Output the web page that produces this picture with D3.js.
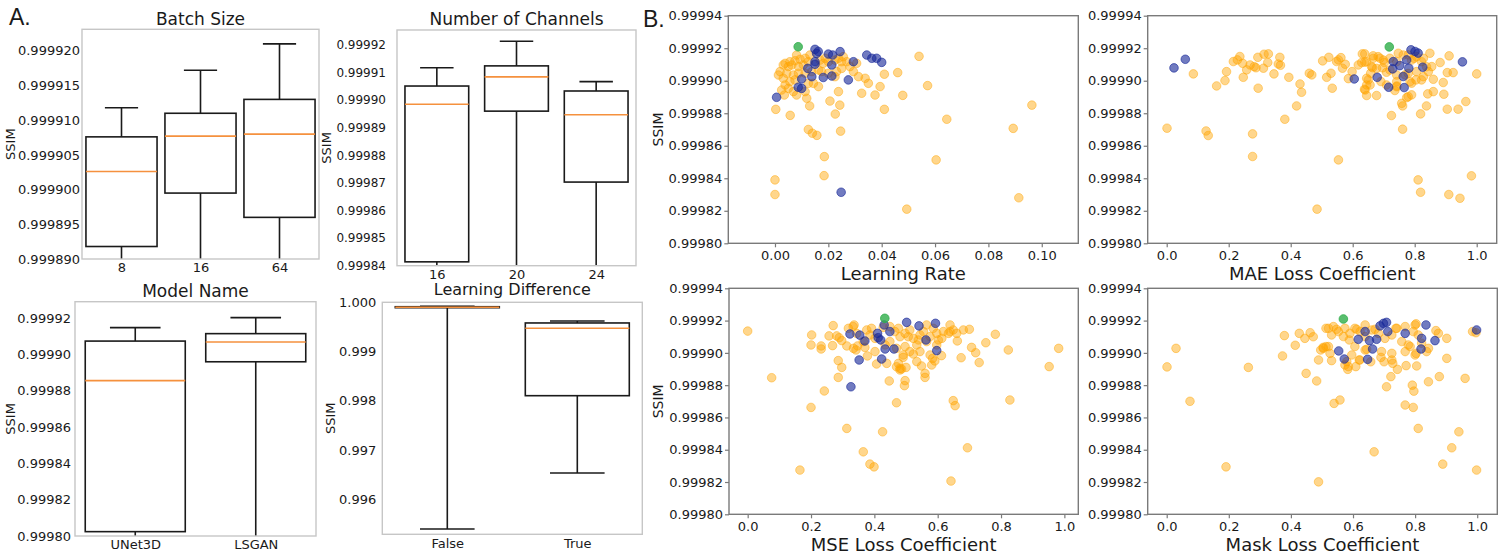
<!DOCTYPE html>
<html><head><meta charset="utf-8">
<script src="https://cdn.jsdelivr.net/npm/d3@7"></script>
<style>body{margin:0;background:#fff} svg text{font-family:"DejaVu Sans",sans-serif;fill:#1a1a1a}</style>
</head><body><svg id="c" width="1500" height="555"></svg>
<script>
// ---------------- DATA ----------------
// Box plots: [lowWhisker, Q1, median, Q3, highWhisker]
const batchCats = ["8", "16", "64"];
const batchStats = [[0.99982, 0.9998918, 0.9999026, 0.9999076, 0.9999118],
                    [0.99982, 0.9998995, 0.9999077, 0.999911, 0.9999172],
                    [0.99982, 0.999896, 0.999908, 0.999913, 0.999921]];
const batchTicks = [0.999890, 0.999895, 0.999900, 0.999905, 0.999910, 0.999915, 0.999920];

const channelCats = ["16", "20", "24"];
const channelStats = [[0.99982, 0.9998414, 0.9998985, 0.9999051, 0.9999117],
                      [0.99982, 0.999896, 0.9999084, 0.9999124, 0.9999213],
                      [0.99982, 0.9998703, 0.9998947, 0.9999033, 0.9999067]];
const channelTicks = [0.99984, 0.99985, 0.99986, 0.99987, 0.99988, 0.99989, 0.99990, 0.99991, 0.99992];

const modelCats = ["UNet3D", "LSGAN"];
const modelStats = [[0.99954, 0.9998024, 0.9998856, 0.9999074, 0.9999148],
                    [0.99954, 0.999896, 0.9999069, 0.9999115, 0.9999203]];
const modelTicks = [0.99980, 0.99982, 0.99984, 0.99986, 0.99988, 0.99990, 0.99992];

const ldCats = ["False", "True"];
const ldStats = [[0.995392, 0.99989, 0.99990, 0.99991, 0.99992],
                 [0.996531, 0.998102, 0.999472, 0.99958, 0.99962]];
const ldTicks = [0.996, 0.997, 0.998, 0.999, 1.000];

// Scatter plots: [x, SSIM]
const ssimTicks = [0.99980, 0.99982, 0.99984, 0.99986, 0.99988, 0.99990, 0.99992, 0.99994];
const lrTicks = [0.00, 0.02, 0.04, 0.06, 0.08, 0.10];
const coefTicks = [0.0, 0.2, 0.4, 0.6, 0.8, 1.0];

const lrOrange = [[0.054,0.999915],[0.046,0.999905],[0.041,0.999904],[0.0572,0.999897],[0.0479,0.999891],[0.041,0.9998824],[0.0644,0.9998763],[0.0963,0.999885],[0.0893,0.9998707],[0.0604,0.9998513],[0.0914,0.999828],[0.0494,0.999821],[0.0,0.999839],[0.0,0.99983],[0.0184,0.9998416],[0.0185,0.9998533],[0.0246,0.999869],[0.0125,0.99987],[0.014,0.9998677],[0.0157,0.9998664],[0.0226,0.9998795],[0.0243,0.999885],[0.0206,0.9998875],[0.0057,0.9998787],[0.0003,0.9998824],[0.013,0.9998845],[0.0035,0.9998912],
 [0.0038,0.9999107],[0.0056,0.9999117],[0.0075,0.9999123],[0.0094,0.9999132],[0.0113,0.9999138],[0.0131,0.9999158],[0.0081,0.9999158],[0.0063,0.9999097],[0.005,0.9999087],[0.0031,0.9999097],[0.0088,0.9999087],[0.0106,0.9999097],[0.0125,0.9999117],[0.0169,0.9999127],[0.0188,0.9999138],[0.0181,0.9999107],[0.02,0.9999117],[0.0225,0.9999127],[0.0238,0.9999138],[0.0256,0.9999148],[0.025,0.9999117],[0.0269,0.9999117],[0.0281,0.9999087],[0.0294,0.9999056],[0.0313,0.9999025],[0.0338,0.9999015],[0.035,0.9998984],[0.025,0.9999076],[0.0231,0.9999056],[0.0225,0.9999025],[0.02,0.9999046],[0.0175,0.9999056],[0.0163,0.9999066],[0.0138,0.9999056],[0.0113,0.9999046],[0.0088,0.9999046],[0.0069,0.9999035],[0.0044,0.9999046],[0.0019,0.9999056],[0.0013,0.9999035],[0.0031,0.9999015],[0.0056,0.9998994],[0.0075,0.9999005],[0.0038,0.9998974],[0.0025,0.9998943],[0.005,0.9998953],[0.0069,0.9998933],[0.0113,0.9998933],[0.0119,0.9998892],[0.0081,0.9998912],[0.0125,0.9998984],[0.0144,0.9998984],[0.0163,0.9998964],[0.0238,0.9998933],[0.0325,0.9998923],[0.0375,0.9998912],[0.0394,0.9998964],[0.0306,0.9999107]];
const lrBlue = [[0.015,0.9999193],[0.0162,0.999918],[0.02,0.9999164],[0.0216,0.9999158],[0.0244,0.9999179],[0.0344,0.9999158],[0.0363,0.9999138],[0.0381,0.9999138],[0.04,0.9999113],[0.0294,0.9999117],[0.0156,0.9999168],[0.015,0.9999117],[0.015,0.9999101],[0.0123,0.9999076],[0.0213,0.9999097],[0.0138,0.9999025],[0.0181,0.999902],[0.0213,0.9999029],[0.0275,0.9999005],[0.01,0.9999011],[0.0087,0.999896],[0.01,0.9998953],[0.0006,0.9998898],[0.0248,0.9998314]];
const lrGreen = [[0.0087,0.9999209]];

const maeOrange = [[0.001,0.9998708],[0.086,0.9999042],[0.127,0.9998691],[0.134,0.9998663],[0.161,0.9998968],[0.188,0.9999001],[0.193,0.9999056],[0.215,0.9999118],[0.228,0.9999128],[0.236,0.9999149],[0.245,0.9999107],[0.247,0.9999021],[0.258,0.9999067],[0.269,0.9999097],[0.282,0.9999087],[0.294,0.9999144],[0.295,0.9998954],[0.288,0.999908],[0.312,0.9999077],[0.314,0.9999163],[0.328,0.9999165],[0.326,0.9999112],[0.346,0.9999042],[0.36,0.9999103],[0.365,0.9999144],[0.367,0.9999095],[0.277,0.9998673],[0.277,0.9998534],[0.381,0.9998763],[0.394,0.9999021],[0.419,0.9998845],[0.43,0.999898],[0.435,0.9998929],[0.46,0.9999046],[0.468,0.9999036],[0.485,0.999821],[0.503,0.9999122],[0.516,0.9999021],[0.523,0.9999144],[0.53,0.9999046],[0.534,0.9998954],[0.548,0.9999118],[0.554,0.9999128],[0.562,0.9999142],[0.554,0.9998513],[0.567,0.9999077],[0.576,0.9999101],[0.586,0.9999013],[0.598,0.9999056],[0.618,0.9999097],[0.631,0.9999165],[0.639,0.9999165],[0.629,0.9999112],[0.639,0.9999114],[0.638,0.9998948],[0.645,0.9998974],[0.645,0.9998909],[0.65,0.9999005],[0.658,0.9999046],[0.664,0.999908],[0.666,0.9999153],[0.677,0.9998909],[0.688,0.9999138],[0.691,0.9998995],[0.696,0.999908],[0.702,0.9999112],[0.709,0.9999052],[0.725,0.9998786],[0.736,0.999894],[0.742,0.9998968],[0.742,0.9998995],[0.747,0.9999169],[0.761,0.9998845],[0.761,0.9998702],[0.769,0.9999036],[0.774,0.9998896],[0.779,0.9999159],[0.79,0.9998913],[0.79,0.9998985],[0.798,0.9999138],[0.804,0.9999005],[0.811,0.999839],[0.819,0.9998314],[0.819,0.9998796],[0.822,0.9999005],[0.828,0.9999138],[0.838,0.9998845],[0.842,0.9998919],[0.844,0.9999056],[0.849,0.9999169],[0.855,0.9999087],[0.86,0.9999009],[0.86,0.9998933],[0.882,0.9999112],[0.892,0.9998989],[0.894,0.9998917],[0.905,0.9998825],[0.91,0.99983],[0.911,0.9999153],[0.905,0.999905],[0.924,0.999905],[0.94,0.9998825],[0.946,0.9998277],[0.965,0.9998872],[0.983,0.9998415],[1.0,0.9999042],
 [0.645,0.9999117],[0.666,0.9999138],[0.682,0.9999148],[0.699,0.9999127],[0.661,0.9999086],[0.677,0.9999076],[0.72,0.9999138],[0.742,0.9999117],[0.763,0.9999158],[0.79,0.9999127],[0.806,0.9999148],[0.822,0.9999117],[0.838,0.9999086],[0.72,0.9999066],[0.742,0.9999035],[0.779,0.9999045],[0.806,0.9999056],[0.828,0.9999025],[0.645,0.9999015],[0.656,0.9998974],[0.64,0.9998943],[0.709,0.9998974],[0.742,0.9998963],[0.785,0.9998994],[0.779,0.9998902],[0.758,0.9998861]];
const maeBlue = [[0.0235,0.9999079],[0.06,0.9999132],[0.605,0.9999011],[0.679,0.9999021],[0.716,0.999896],[0.729,0.9999073],[0.752,0.9999093],[0.763,0.9999026],[0.766,0.9998958],[0.788,0.999919],[0.801,0.999918],[0.811,0.999917],[0.781,0.9999077],[0.826,0.9999083],[0.954,0.9999116],[0.731,0.9999118],[0.774,0.9999128]];
const maeGreen = [[0.718,0.9999208]];

const mseOrange = [[0.0,0.9999135],[0.0757,0.9998846],[0.165,0.9998274],[0.2,0.9998662],[0.202,0.9999111],[0.2,0.9999049],[0.232,0.9999043],[0.232,0.9999024],[0.242,0.9998764],[0.257,0.9999105],[0.268,0.9999045],[0.27,0.9999169],[0.281,0.9999105],[0.289,0.9999094],[0.286,0.9998952],[0.297,0.999891],[0.286,0.9998848],[0.297,0.9999076],[0.313,0.9998532],[0.313,0.9999043],[0.333,0.9999163],[0.336,0.9999173],[0.342,0.9999018],[0.347,0.9999043],[0.365,0.9998387],[0.37,0.9999034],[0.378,0.9998981],[0.386,0.9998311],[0.399,0.9998294],[0.402,0.9999008],[0.407,0.9998931],[0.426,0.9998511],[0.428,0.9999158],[0.447,0.9998826],[0.47,0.9998691],[0.47,0.9998914],[0.481,0.9998894],[0.486,0.99989],[0.476,0.9999152],[0.491,0.9998972],[0.497,0.9998828],[0.495,0.9998797],[0.5,0.999891],[0.507,0.99991],[0.523,0.9998993],[0.534,0.9998946],[0.539,0.999908],[0.549,0.9998919],[0.56,0.9998873],[0.56,0.9998848],[0.565,0.9999173],[0.581,0.9998925],[0.584,0.9998966],[0.586,0.9999152],[0.591,0.999895],[0.597,0.9999049],[0.602,0.999908],[0.612,0.9998983],[0.618,0.9999132],[0.639,0.9999173],[0.639,0.9999132],[0.642,0.9998206],[0.649,0.9998704],[0.655,0.9998673],[0.66,0.9999121],[0.662,0.9999074],[0.674,0.999897],[0.681,0.9999142],[0.694,0.9998412],[0.7,0.9999146],[0.707,0.9999034],[0.72,0.9999001],[0.731,0.999894],[0.752,0.9999063],[0.782,0.9999115],[0.823,0.9999018],[0.828,0.9998708],[0.952,0.9998915],[0.982,0.9999028],
 [0.376,0.9999142],[0.391,0.9999152],[0.386,0.9999111],[0.402,0.999909],[0.449,0.9999163],[0.465,0.9999132],[0.481,0.99991],[0.497,0.9999121],[0.512,0.9999142],[0.523,0.999909],[0.544,0.9999111],[0.555,0.9999132],[0.565,0.999907],[0.576,0.9999101],[0.597,0.9999121],[0.613,0.999909],[0.634,0.9999121],[0.649,0.9999142],[0.534,0.9999049],[0.497,0.9999039],[0.47,0.9999028],[0.449,0.999907],[0.434,0.9999049],[0.491,0.9998987],[0.512,0.9999008],[0.544,0.9999008],[0.576,0.9998987],[0.476,0.9998935],[0.481,0.9998904],[0.439,0.9998935],[0.344,0.9999121],[0.318,0.9999152],[0.365,0.999907],[0.334,0.9999028]];
const mseBlue = [[0.323,0.9999117],[0.354,0.999911],[0.352,0.9998956],[0.326,0.999879],[0.37,0.9999074],[0.41,0.9999121],[0.412,0.9999094],[0.42,0.999908],[0.431,0.9999173],[0.434,0.9999024],[0.423,0.9998962],[0.462,0.9999024],[0.502,0.9999189],[0.541,0.9999167],[0.563,0.999908],[0.593,0.9999183],[0.597,0.9999014],[0.449,0.9999132]];
const mseGreen = [[0.433,0.9999214]];

const maskOrange = [[0.001,0.9998913],[0.03,0.9999028],[0.075,0.99987],[0.191,0.9998294],[0.263,0.999891],[0.373,0.9998981],[0.379,0.9999107],[0.414,0.9999047],[0.427,0.9999121],[0.445,0.999909],[0.449,0.9998873],[0.462,0.9999125],[0.472,0.99991],[0.483,0.9998826],[0.489,0.9998956],[0.489,0.9998201],[0.496,0.9999018],[0.504,0.9999034],[0.513,0.9999152],[0.513,0.9999039],[0.526,0.9998997],[0.531,0.9998952],[0.539,0.9998687],[0.547,0.9999146],[0.558,0.9998708],[0.574,0.9998925],[0.583,0.9998898],[0.588,0.999908],[0.609,0.9998915],[0.612,0.9999146],[0.62,0.9998956],[0.639,0.9999173],[0.644,0.9999022],[0.657,0.9998945],[0.668,0.9998387],[0.671,0.9999146],[0.69,0.9998972],[0.7,0.9998945],[0.708,0.999879],[0.722,0.9998853],[0.728,0.9998935],[0.738,0.9999152],[0.743,0.9998898],[0.768,0.9998677],[0.771,0.9998921],[0.784,0.9999039],[0.791,0.99988],[0.796,0.9998763],[0.794,0.9998662],[0.803,0.9998997],[0.805,0.9998919],[0.803,0.999918],[0.81,0.9998532],[0.837,0.9999008],[0.843,0.9998821],[0.867,0.9999138],[0.875,0.9999121],[0.878,0.9998853],[0.889,0.9998311],[0.902,0.9998966],[0.902,0.999909],[0.918,0.9998412],[0.941,0.9998511],[0.961,0.9998842],[0.985,0.9999132],[0.996,0.9999125],[0.998,0.9998274],
 [0.521,0.9999152],[0.537,0.9999163],[0.531,0.9999111],[0.553,0.9999132],[0.574,0.9999152],[0.569,0.9999101],[0.59,0.9999121],[0.606,0.9999152],[0.623,0.9999132],[0.639,0.9999101],[0.66,0.9999142],[0.682,0.9999121],[0.703,0.999909],[0.725,0.9999111],[0.741,0.9999152],[0.757,0.999907],[0.778,0.9999049],[0.794,0.9999132],[0.81,0.9999111],[0.8,0.9999173],[0.768,0.9999163],[0.821,0.999906],[0.843,0.9999028],[0.521,0.9999039],[0.504,0.9999028],[0.606,0.9999039],[0.639,0.9999018],[0.596,0.9998987],[0.58,0.9998946],[0.585,0.9998915],[0.622,0.9998956],[0.692,0.9999008],[0.725,0.9998997],[0.725,0.9998956],[0.768,0.9999008],[0.8,0.9998987]];
const maskBlue = [[0.554,0.9999012],[0.572,0.9998962],[0.617,0.9999084],[0.647,0.999896],[0.639,0.9999132],[0.653,0.9999076],[0.663,0.9999024],[0.676,0.9999084],[0.687,0.9999167],[0.698,0.9999183],[0.708,0.9999189],[0.712,0.9999132],[0.768,0.9999121],[0.821,0.999909],[0.819,0.9999024],[0.835,0.9999173],[0.864,0.9999076],[0.998,0.9999142]];
const maskGreen = [[0.569,0.999921]];

// ---------------- DRAWING ----------------
const svg = d3.select("#c");
const FONT = "DejaVu Sans";
let clipN = 0;

function boxPanel(o) {
  const n = o.cats.length;
  const x = d3.scaleLinear().domain([0.5, n + 0.5]).range([o.x0, o.x1]);
  const y = d3.scaleLinear().domain(o.ylim).range([o.y1, o.y0]);
  const unit = x(2) - x(1);
  const g = svg.append("g");
  const id = "clip" + (clipN++);
  g.append("clipPath").attr("id", id).append("rect")
    .attr("x", o.x0).attr("y", o.y0).attr("width", o.x1 - o.x0).attr("height", o.y1 - o.y0);
  const ya = g.append("g").attr("transform", `translate(${o.x0},0)`)
    .call(d3.axisLeft(y).tickValues(o.ticks).tickFormat(d3.format(o.fmt)).tickSize(0).tickPadding(o.pad));
  ya.select(".domain").remove();
  ya.attr("font-size", o.tickFs || 13).attr("font-family", FONT);
  const xa = g.append("g").attr("transform", `translate(0,${o.y1})`)
    .call(d3.axisBottom(x).tickValues(d3.range(1, n + 1)).tickFormat((d, i) => o.cats[i]).tickSize(0).tickPadding(4));
  xa.select(".domain").remove();
  xa.attr("font-size", 13).attr("font-family", FONT);

  const b = g.append("g").attr("clip-path", `url(#${id})`);
  o.stats.forEach((s, i) => {
    const cx = x(i + 1), hw = o.bw * unit / 2, cw = 0.21 * unit;
    const [lo, q1, med, q3, hi] = s;
    const line = (x1, y1, x2, y2, col) => b.append("line").attr("x1", x1).attr("y1", y1).attr("x2", x2).attr("y2", y2)
      .attr("stroke", col || "#1a1a1a").attr("stroke-width", 1.6);
    line(cx, y(q3), cx, y(hi));
    line(cx, y(q1), cx, y(lo));
    line(cx - cw, y(hi), cx + cw, y(hi));
    line(cx - cw, y(lo), cx + cw, y(lo));
    b.append("rect").attr("x", cx - hw).attr("y", y(q3)).attr("width", 2 * hw).attr("height", y(q1) - y(q3))
      .attr("fill", "none").attr("stroke", "#1a1a1a").attr("stroke-width", 1.6);
    line(cx - hw, y(med), cx + hw, y(med), "#f5913e");
  });
  g.append("rect").attr("x", o.x0).attr("y", o.y0).attr("width", o.x1 - o.x0).attr("height", o.y1 - o.y0)
    .attr("fill", "none").attr("stroke", "#c6c6c6").attr("stroke-width", 1.4);
  g.append("text").attr("x", (o.x0 + o.x1) / 2).attr("y", o.ty).attr("text-anchor", "middle")
    .attr("font-size", o.tfs).text(o.title);
  g.append("text").attr("transform", `translate(${o.lx},${(o.y0 + o.y1) / 2}) rotate(-90)`)
    .attr("text-anchor", "middle").attr("dy", "0.35em").attr("font-size", 13).text("SSIM");
}

function scatterPanel(o) {
  const x = d3.scaleLinear().domain(o.xlim).range([o.x0, o.x1]);
  const y = d3.scaleLinear().domain([0.99980, 0.99994]).range([o.y1, o.y0]);
  const g = svg.append("g");
  const ya = g.append("g").attr("transform", `translate(${o.x0},0)`)
    .call(d3.axisLeft(y).tickValues(ssimTicks).tickFormat(d3.format(".5f")).tickSize(4).tickPadding(2));
  ya.select(".domain").remove();
  ya.attr("font-size", 13).attr("font-family", FONT);
  ya.selectAll("line").attr("stroke", "#7a7a7a").attr("stroke-width", 1.2);
  const xa = g.append("g").attr("transform", `translate(0,${o.y1})`)
    .call(d3.axisBottom(x).tickValues(o.xticks).tickFormat(d3.format(o.fmt)).tickSize(4).tickPadding(3));
  xa.select(".domain").remove();
  xa.attr("font-size", 13).attr("font-family", FONT);
  xa.selectAll("line").attr("stroke", "#7a7a7a").attr("stroke-width", 1.2);
  g.append("rect").attr("x", o.x0).attr("y", o.y0).attr("width", o.x1 - o.x0).attr("height", o.y1 - o.y0)
    .attr("fill", "none").attr("stroke", "#7a7a7a").attr("stroke-width", 1.4);

  const dots = (data, col, op) => g.append("g").selectAll("circle").data(data).join("circle")
    .attr("cx", d => x(d[0])).attr("cy", d => y(d[1])).attr("r", 4.3)
    .attr("fill", col).attr("fill-opacity", op).attr("stroke", col).attr("stroke-opacity", op).attr("stroke-width", 1);
  dots(o.orange, "#ffa500", 0.45);
  dots(o.blue, "#1a2a9a", 0.62);
  dots(o.green, "#2fae4a", 0.8);

  g.append("text").attr("x", (o.x0 + o.x1) / 2).attr("y", o.y1 + 37).attr("text-anchor", "middle")
    .attr("font-size", 18).text(o.xlabel);
  if (o.ylab) g.append("text").attr("transform", `translate(658,${(o.y0 + o.y1) / 2}) rotate(-90)`)
    .attr("text-anchor", "middle").attr("dy", "0.35em").attr("font-size", 14).text("SSIM");
}

// Panel A
boxPanel({cats: batchCats, stats: batchStats, ticks: batchTicks, fmt: ".6f", x0: 82, x1: 319, y0: 29.3, y1: 259,
  ylim: [0.999890, 0.9999231], pad: 2, bw: 0.9, title: "Batch Size", ty: 25, tfs: 17, lx: 10});
boxPanel({cats: channelCats, stats: channelStats, ticks: channelTicks, fmt: ".5f", x0: 397, x1: 636, y0: 30, y1: 265.7,
  ylim: [0.99984, 0.9999254], pad: 11, bw: 0.8, title: "Number of Channels", ty: 25, tfs: 17, lx: 326, tickFs: 12});
boxPanel({cats: modelCats, stats: modelStats, ticks: modelTicks, fmt: ".5f", x0: 75, x1: 316, y0: 301.7, y1: 536,
  ylim: [0.99980, 0.9999291], pad: 4, bw: 0.83, title: "Model Name", ty: 296.5, tfs: 17, lx: 10});
boxPanel({cats: ldCats, stats: ldStats, ticks: ldTicks, fmt: ".3f", x0: 382.3, x1: 642.3, y0: 302.3, y1: 534.3,
  ylim: [0.995285, 1.0], pad: 6, bw: 0.8, title: "Learning Difference", ty: 295, tfs: 16, lx: 330});

// Panel B
scatterPanel({x0: 728.3, x1: 1078.3, y0: 15.7, y1: 243.3, xlim: [-0.0175, 0.1137], xticks: lrTicks, fmt: ".2f",
  xlabel: "Learning Rate", ylab: true, orange: lrOrange, blue: lrBlue, green: lrGreen});
scatterPanel({x0: 1147.7, x1: 1496.7, y0: 15.7, y1: 243.3, xlim: [-0.0613, 1.0645], xticks: coefTicks, fmt: ".1f",
  xlabel: "MAE Loss Coefficient", ylab: false, orange: maeOrange, blue: maeBlue, green: maeGreen});
scatterPanel({x0: 729, x1: 1078.3, y0: 288.3, y1: 514.3, xlim: [-0.059, 1.044], xticks: coefTicks, fmt: ".1f",
  xlabel: "MSE Loss Coefficient", ylab: true, orange: mseOrange, blue: mseBlue, green: mseGreen});
scatterPanel({x0: 1147.7, x1: 1497.3, y0: 288.3, y1: 514.3, xlim: [-0.0612, 1.0647], xticks: coefTicks, fmt: ".1f",
  xlabel: "Mask Loss Coefficient", ylab: false, orange: maskOrange, blue: maskBlue, green: maskGreen});

// Panel letters
svg.append("text").attr("x", 9).attr("y", 25).attr("font-size", 23).style("font-family", "Liberation Sans, Arial, sans-serif").text("A.");
svg.append("text").attr("x", 643).attr("y", 27).attr("font-size", 23).style("font-family", "Liberation Sans, Arial, sans-serif").text("B.");
</script></body></html>
